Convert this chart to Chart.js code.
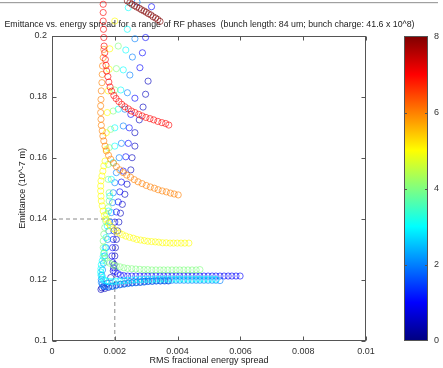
<!DOCTYPE html>
<html>
<head>
<meta charset="utf-8">
<script src="https://cdn.jsdelivr.net/npm/chart.js@4.4.1/dist/chart.umd.min.js"></script>
<style>
  html, body { margin: 0; padding: 0; background: #fff; }
</style>
</head>
<body>
<canvas id="emitChart" width="443" height="368"></canvas>
<script>
// Niveau de couleur de chaque courbe (échelle de la barre de couleur)
const seriesLevel = [8, 7, 6, 5, 4, 3, 2, 1, 0.5];

// Courbes : dispersion en énergie (x) et émittance (y)
const spread8 = [0.0024,0.00248,0.00255,0.00263,0.0027,0.00278,0.00285,0.00293,0.003,0.00307,0.00315,0.00322,0.0033,0.00337,0.00344];
const emit8 = [0.2115,0.2109,0.2104,0.2099,0.2095,0.2091,0.2086,0.2082,0.2078,0.2073,0.2069,0.2063,0.2059,0.2054,0.2048];

const spread7 = [0.00163,0.00163,0.00163,0.00164,0.00165,0.00166,0.00168,0.0017,0.00172,0.00174,0.00178,0.00181,0.00185,0.0019,0.00197,0.00204,0.00213,0.00222,0.00232,0.00243,0.00253,0.00264,0.00276,0.00287,0.00299,0.00312,0.00324,0.00337,0.0035,0.00362,0.00372];
const emit7 = [0.2104,0.2077,0.2049,0.2022,0.1995,0.1967,0.1945,0.1923,0.1904,0.1885,0.1867,0.1849,0.1833,0.1819,0.1805,0.1795,0.1785,0.1776,0.1768,0.1761,0.1754,0.1749,0.1743,0.1738,0.1733,0.1729,0.1725,0.172,0.1716,0.1713,0.1708];

const spread6 = [0.00165,0.00163,0.00161,0.0016,0.00159,0.00157,0.00156,0.00155,0.00155,0.00156,0.00157,0.0016,0.00162,0.00165,0.00169,0.00173,0.0018,0.00187,0.00196,0.00205,0.00216,0.00227,0.00238,0.0025,0.00262,0.00274,0.00287,0.003,0.00313,0.00326,0.00338,0.00351,0.00364,0.00377,0.00389,0.00402];
const emit6 = [0.1956,0.1929,0.1902,0.1874,0.1847,0.182,0.1792,0.1771,0.1749,0.1727,0.1707,0.1689,0.1672,0.1656,0.1639,0.1623,0.1609,0.1596,0.1583,0.1572,0.1561,0.1552,0.1544,0.1537,0.1529,0.1522,0.1516,0.151,0.1505,0.1501,0.1496,0.1492,0.1489,0.1485,0.1482,0.1479];

const spread5 = [0.002,0.00184,0.00182,0.00179,0.00176,0.00173,0.00173,0.00169,0.00165,0.00162,0.00159,0.00156,0.00155,0.00155,0.00156,0.00157,0.0016,0.00163,0.00167,0.00172,0.00179,0.00186,0.00195,0.00204,0.00214,0.00224,0.00235,0.00247,0.00259,0.0027,0.00282,0.00294,0.00305,0.00317,0.00329,0.0034,0.00352,0.00364,0.00376,0.00387,0.00399,0.00411,0.00423,0.00436];
const emit5 = [0.2049,0.1958,0.1891,0.182,0.1749,0.1683,0.1628,0.159,0.1574,0.1557,0.1541,0.1525,0.1508,0.1492,0.1475,0.1459,0.1443,0.1426,0.1412,0.1399,0.1387,0.1377,0.1368,0.1361,0.1354,0.1349,0.1344,0.134,0.1337,0.1333,0.1331,0.1329,0.1327,0.1326,0.1325,0.1324,0.1322,0.1322,0.1321,0.1321,0.1321,0.1321,0.1321,0.1321];

const spread4 = [0.00211,0.00205,0.002,0.00195,0.00187,0.00182,0.00179,0.00179,0.00182,0.00182,0.00179,0.00174,0.00171,0.00168,0.00165,0.00163,0.00163,0.00165,0.00169,0.00176,0.00184,0.00195,0.00205,0.00217,0.00229,0.00241,0.00254,0.00267,0.0028,0.00293,0.00305,0.00318,0.00331,0.00344,0.00356,0.00369,0.00382,0.00395,0.00407,0.0042,0.00433,0.00446,0.00459,0.00471];
const emit4 = [0.1967,0.1893,0.1823,0.1754,0.1694,0.1634,0.1579,0.153,0.1486,0.1459,0.1437,0.1415,0.1393,0.1372,0.135,0.1328,0.1306,0.1287,0.1272,0.1261,0.1255,0.1249,0.1246,0.1243,0.124,0.1238,0.1237,0.1236,0.1235,0.1234,0.1234,0.1233,0.1233,0.1233,0.1233,0.1233,0.1233,0.1233,0.1233,0.1233,0.1233,0.1233,0.1233,0.1234];

const spread3 = [0.00243,0.0024,0.00235,0.00227,0.00219,0.00211,0.002,0.002,0.00195,0.00189,0.00184,0.0018,0.00176,0.00172,0.00169,0.00166,0.00163,0.0016,0.00157,0.00156,0.00155,0.00156,0.0016,0.00165,0.00172,0.00182,0.00193,0.00204,0.00216,0.00229,0.00241,0.00254,0.00267,0.0028,0.00293,0.00305,0.00318,0.00331,0.00344,0.00356,0.00369,0.00382,0.00395,0.00407,0.0042,0.00433,0.00446,0.00459,0.00471,0.00484,0.00497,0.0051,0.00522];
const emit3 = [0.2093,0.2022,0.1954,0.1889,0.1823,0.176,0.1699,0.1639,0.1585,0.153,0.1475,0.1426,0.1377,0.1339,0.1306,0.129,0.1277,0.1263,0.125,0.1237,0.1226,0.1216,0.1208,0.1201,0.1197,0.1195,0.1195,0.1196,0.1197,0.1198,0.1199,0.12,0.1201,0.1201,0.1202,0.1202,0.1202,0.1203,0.1203,0.1203,0.1203,0.1203,0.1203,0.1203,0.1203,0.1203,0.1203,0.1203,0.1203,0.1203,0.1203,0.1203,0.1202];

const spread2 = [0.00271,0.00264,0.00256,0.00248,0.0024,0.00232,0.00227,0.00221,0.00214,0.00205,0.002,0.00195,0.00193,0.00189,0.00184,0.00181,0.00177,0.00172,0.00168,0.00164,0.00161,0.00159,0.00157,0.00157,0.0016,0.00164,0.00171,0.00181,0.00191,0.00203,0.00216,0.00229,0.00241,0.00254,0.00267,0.0028,0.00293,0.00305,0.00318,0.00331,0.00344,0.00356,0.00369,0.00382,0.00395,0.00407,0.0042,0.00433,0.00446,0.00459,0.00471,0.00484,0.00497,0.0051,0.00522,0.00535];
const emit2 = [0.2111,0.1991,0.1931,0.1872,0.1814,0.176,0.1705,0.1648,0.1601,0.1552,0.1519,0.1486,0.1454,0.1421,0.139,0.1361,0.1333,0.1306,0.1279,0.1255,0.1233,0.1215,0.1202,0.1193,0.1186,0.118,0.1178,0.1178,0.1179,0.1181,0.1184,0.1186,0.1188,0.119,0.1191,0.1192,0.1193,0.1195,0.1196,0.1197,0.1197,0.1198,0.1198,0.1199,0.1199,0.1199,0.1199,0.1199,0.1199,0.1199,0.1199,0.1199,0.1199,0.1199,0.1199,0.1198];

const spread1 = [0.00317,0.00298,0.00288,0.0028,0.00264,0.00251,0.00246,0.00243,0.00235,0.00227,0.00221,0.00216,0.00211,0.00205,0.002,0.00197,0.00195,0.00193,0.00191,0.00193,0.00196,0.00201,0.00209,0.00218,0.00229,0.00241,0.00254,0.00267,0.0028,0.00293,0.00305,0.00318,0.00331,0.00344,0.00356,0.00369,0.00382,0.00395,0.00407,0.0042,0.00433,0.00446,0.00459,0.00471,0.00484,0.00497,0.0051,0.00522,0.00535,0.00548,0.00561,0.00573,0.00586,0.00599];
const emit1 = [0.2096,0.1995,0.1945,0.1896,0.1796,0.1743,0.1699,0.1648,0.1604,0.1557,0.1521,0.1489,0.1456,0.1423,0.139,0.1361,0.1333,0.1306,0.1279,0.1257,0.124,0.1228,0.1221,0.1216,0.1214,0.1213,0.1213,0.1213,0.1213,0.1213,0.1213,0.1213,0.1213,0.1213,0.1213,0.1213,0.1213,0.1213,0.1213,0.1213,0.1213,0.1213,0.1213,0.1213,0.1213,0.1213,0.1213,0.1213,0.1213,0.1213,0.1213,0.1213,0.1213,0.1213];

const spread0 = [0.00306,0.00298,0.0029,0.00278,0.00264,0.00264,0.00255,0.00251,0.00239,0.00232,0.00224,0.00218,0.00213,0.00209,0.00205,0.00202,0.002,0.00198,0.00195,0.00187,0.00176,0.00165,0.00159,0.00156,0.00168,0.0018,0.00193,0.00205,0.00218,0.00231,0.00244,0.00256,0.00269,0.00282,0.00295,0.00307,0.0032,0.00333,0.00346,0.00359,0.00371];
const emit0 = [0.1852,0.1809,0.1767,0.1725,0.1683,0.1639,0.1601,0.1561,0.1514,0.1481,0.1448,0.1419,0.139,0.1361,0.1333,0.1306,0.1279,0.1251,0.123,0.1208,0.1189,0.1178,0.1174,0.1169,0.1172,0.1176,0.118,0.1184,0.1186,0.1188,0.119,0.1191,0.1192,0.1193,0.1195,0.1196,0.1196,0.1197,0.1197,0.1197,0.1197];

// Graduations des axes et de la barre de couleur
const xTickVals = [0, 0.002, 0.004, 0.006, 0.008, 0.01];
const xTickLabels = ['0', '0.002', '0.004', '0.006', '0.008', '0.01'];
const yTickVals = [0.1, 0.12, 0.14, 0.16, 0.18, 0.2];
const yTickLabels = ['0.1', '0.12', '0.14', '0.16', '0.18', '0.2'];
const cbTickVals = [0, 2, 4, 6, 8];
const cbTickLabels = ['0', '2', '4', '6', '8'];

// Lignes de repère en pointillés
const refSpread = 0.002;
const refEmit = 0.14;

const titre = 'Emittance vs. energy spread for a range of RF phases  (bunch length: 84 um; bunch charge: 41.6 x 10^8)';
const police = '"Liberation Sans", Arial, Helvetica, sans-serif';

// Palette "jet" (0 = bleu foncé, 8 = rouge foncé)
function jet(v, a) {
    const t = v / 8;
    const c = k => Math.round(255 * Math.min(1, Math.max(0, 1.5 - Math.abs(4 * t - k))));
    return `rgba(${c(3)}, ${c(2)}, ${c(1)}, ${a})`;
}

const allSpread = [spread8, spread7, spread6, spread5, spread4, spread3, spread2, spread1, spread0];
const allEmit = [emit8, emit7, emit6, emit5, emit4, emit3, emit2, emit1, emit0];

const datasets = allSpread.map((xs, k) => ({
    type: 'scatter',
    data: xs.map((v, i) => ({ x: v, y: allEmit[k][i] })).filter(p => p.y !== undefined),
    borderColor: jet(seriesLevel[k], 0.62),
    backgroundColor: 'rgba(0,0,0,0)',
    pointRadius: 3.1,
    pointHoverRadius: 3.1,
    pointBorderWidth: 1,
    clip: false
}));

// Pointillés horizontaux et verticaux
datasets.push({
    type: 'line',
    data: [{ x: 0, y: refEmit }, { x: refSpread, y: refEmit }],
    borderColor: '#8a8a8a', borderWidth: 1, borderDash: [4, 3], pointRadius: 0
});
datasets.push({
    type: 'line',
    data: [{ x: refSpread, y: 0.1 }, { x: refSpread, y: refEmit }],
    borderColor: '#8a8a8a', borderWidth: 1, borderDash: [4, 3], pointRadius: 0
});

// Plugin : titre, cadre, graduations intérieures, barre de couleur
const cadre = {
    id: 'cadre',
    beforeDatasetsDraw(chart) {
        const { ctx, chartArea: a, scales: { x, y } } = chart;
        ctx.save();
        ctx.fillStyle = '#a0a0a0';
        ctx.fillRect(0, 2, 438, 1.2); // trait gris en haut

        ctx.font = '8.8px ' + police;
        ctx.fillStyle = '#222';
        ctx.textBaseline = 'middle';
        ctx.textAlign = 'left';
        ctx.fillText(titre, 4.5, 24.5);

        const L = Math.round(a.left) + 0.5, R = Math.round(a.right) - 0.5;
        const T = Math.round(a.top) + 0.5, B = Math.round(a.bottom) - 0.5;
        ctx.strokeStyle = '#555';
        ctx.lineWidth = 1;
        ctx.strokeRect(L, T, R - L, B - T);
        ctx.beginPath();
        xTickVals.forEach(v => {
            const px = Math.round(x.getPixelForValue(v)) + 0.5;
            ctx.moveTo(px, B); ctx.lineTo(px, B - 4);
            ctx.moveTo(px, T); ctx.lineTo(px, T + 4);
        });
        yTickVals.forEach(v => {
            const py = Math.round(y.getPixelForValue(v)) + 0.5;
            ctx.moveTo(L, py); ctx.lineTo(L + 4, py);
            ctx.moveTo(R, py); ctx.lineTo(R - 4, py);
        });
        ctx.stroke();

        // Barre de couleur
        const cbL = 404, cbR = 428, cbT = T, cbB = B;
        const grad = ctx.createLinearGradient(0, cbB, 0, cbT);
        for (let i = 0; i <= 32; i++) grad.addColorStop(i / 32, jet(8 * i / 32, 1));
        ctx.fillStyle = grad;
        ctx.fillRect(cbL, cbT, cbR - cbL, cbB - cbT);
        ctx.strokeRect(cbL + 0.5, cbT, cbR - cbL - 1, cbB - cbT);
        ctx.font = '9px ' + police;
        ctx.fillStyle = '#333';
        ctx.beginPath();
        cbTickVals.forEach((v, i) => {
            const py = cbB - (v / 8) * (cbB - cbT);
            if (v > 0 && v < 8) {
                ctx.moveTo(cbL, Math.round(py) + 0.5); ctx.lineTo(cbL + 3, Math.round(py) + 0.5);
                ctx.moveTo(cbR, Math.round(py) + 0.5); ctx.lineTo(cbR - 3, Math.round(py) + 0.5);
            }
            ctx.fillText(cbTickLabels[i], 434, py);
        });
        ctx.stroke();
        ctx.restore();
    },
    afterDatasetsDraw(chart) {
        // Les cercles au-dessus de 0.2 ne sont pas coupés dans la figure d'origine
        const a = chart.chartArea;
        const metas = chart.getSortedVisibleDatasetMetas().slice().reverse();
        metas.forEach(meta => {
            if (meta.type !== 'scatter') return;
            meta.data.forEach(el => {
                if (el.y <= a.top - el.size() / 2) el.draw(chart.ctx);
            });
        });
    }
};

Chart.defaults.font.family = police;
Chart.defaults.font.size = 9;
Chart.defaults.color = '#333';

const myChart = new Chart(document.getElementById('emitChart').getContext('2d'), {
    type: 'scatter',
    data: { datasets: datasets },
    options: {
        responsive: false,
        animation: false,
        devicePixelRatio: 1,
        layout: { padding: { left: 0, right: 77, top: 36, bottom: 0 } },
        plugins: { legend: { display: false }, tooltip: { enabled: false } },
        scales: {
            x: {
                type: 'linear', min: 0, max: 0.01,
                afterBuildTicks: s => { s.ticks = xTickVals.map(v => ({ value: v })); },
                afterFit: s => { s.height = 27; },
                grid: { display: false, drawTicks: false },
                border: { display: false },
                ticks: { padding: 5, maxRotation: 0, autoSkip: false, callback: (v, i) => xTickLabels[i] },
                title: { display: true, text: 'RMS fractional energy spread', color: '#222', padding: { top: 0, bottom: 1.6 } }
            },
            y: {
                type: 'linear', min: 0.1, max: 0.2,
                afterBuildTicks: s => { s.ticks = yTickVals.map(v => ({ value: v })); },
                afterFit: s => { s.width = 52; },
                grid: { display: false, drawTicks: false },
                border: { display: false },
                ticks: { padding: 5, autoSkip: false, callback: (v, i) => yTickLabels[i] },
                title: { display: true, text: 'Emittance (10^-7 m)', color: '#222', padding: { top: 17.6, bottom: 0 } }
            }
        }
    },
    plugins: [cadre]
});
</script>
</body>
</html>
